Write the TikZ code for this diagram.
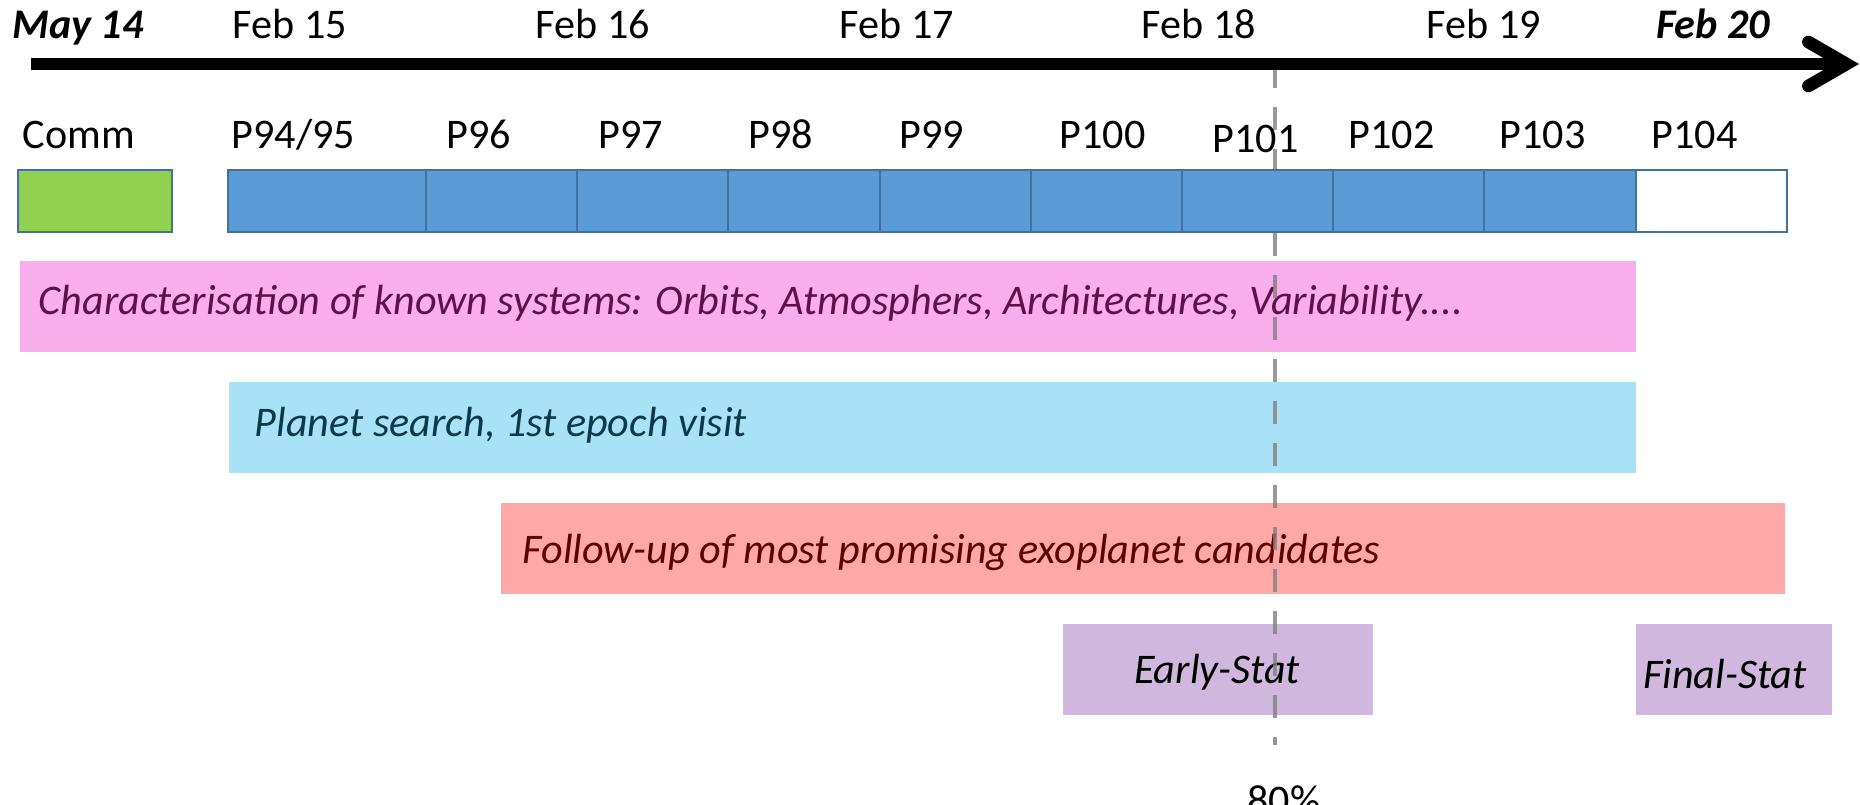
\documentclass[tikz,border=0pt]{standalone}
\usepackage{fontspec}
\setmainfont{Carlito}
\usetikzlibrary{arrows.meta,positioning}
\definecolor{cellblue}{RGB}{91,155,213}
\definecolor{cellline}{RGB}{65,113,156}
\definecolor{commgreen}{RGB}{146,208,80}
\definecolor{pinkbar}{RGB}{249,174,236}
\definecolor{pinktext}{RGB}{94,16,74}
\definecolor{skybar}{RGB}{169,226,247}
\definecolor{skytext}{RGB}{12,58,72}
\definecolor{salmonbar}{RGB}{255,168,168}
\definecolor{salmontext}{RGB}{96,0,0}
\definecolor{lavender}{RGB}{207,183,221}
\newcommand{\twelve}{\fontsize{12}{14}\selectfont}

\begin{document}
\begin{tikzpicture}[x=0.1mm,y=-0.1mm,font=\twelve,
    period/.style={draw=cellline,line width=0.6pt,minimum height=6.2mm,
      inner sep=0pt,outer sep=0pt,anchor=north west},
    lab/.style={anchor=base west,inner sep=0pt},
    datelab/.style={anchor=base,inner sep=0pt},
    bar/.style={minimum height=9.1mm,inner sep=0pt,outer sep=0pt,anchor=north west},
    bartext/.style={anchor=base west,inner sep=0pt,font=\twelve\itshape}]
  \useasboundingbox (0,0) rectangle (1860,805);
  \clip (0,0) rectangle (1860,805);

  % programme bars
  \node[bar,fill=pinkbar,minimum width=161.6mm] (known) at (20,261) {};
  \node[bartext,text=pinktext] (knowntxt) at (38,315) {Characterisation of known systems: Orbits, Atmosphers, Architectures, Variability....};
  \node[bar,fill=skybar,minimum width=140.7mm] (search) at (229,382) {};
  \node[bartext,text=skytext] (searchtxt) at (254,436) {Planet search, 1st epoch visit};
  \node[bar,fill=salmonbar,minimum width=128.4mm] (follow) at (501,503) {};
  \node[bartext,text=salmontext] (followtxt) at (522,563) {Follow-up of most promising exoplanet candidates};
  \node[bar,fill=lavender,minimum width=31mm] (early) at (1063,624) {};
  \node[bartext,anchor=base] (earlytxt) at (1217,683) {Early-Stat};
  \node[bar,fill=lavender,minimum width=19.6mm] (final) at (1636,624) {};
  \node[bartext,anchor=base] (finaltxt) at (1725,688) {Final-Stat};

  % 80% marker
  \coordinate (m0) at (1275,65);
  \coordinate (m1) at (1275,745);
  \draw[gray,line width=1.4pt,dash pattern=on 2.3mm off 1.9mm,opacity=0.8] (m0) -- (m1);
  \node[anchor=base,inner sep=0pt] (pct) at (1284,814) {80\%};

  % periods
  \node[period,fill=commgreen,minimum width=15.4mm] (comm) at (18,170) {};
  \node[lab] (commlab) at (22,149) {Comm};
  \foreach \t/\lx/\ly/\c [count=\i from 0] in {
    {P94/95}/231/149/cellblue, P96/446/149/cellblue, P97/598/149/cellblue,
    P98/748/149/cellblue, P99/899/149/cellblue, P100/1059/149/cellblue,
    P101/1212/153/cellblue, P102/1348/149/cellblue, P103/1499/149/cellblue,
    P104/1651/149/white}
  {
    \pgfmathsetmacro{\x}{\i==0 ? 228 : 426+(\i-1)*151.2}
    \pgfmathsetmacro{\w}{\i==0 ? 19.8 : 15.12}
    \node[period,fill=\c,minimum width=\w mm] (p\i) at (\x,170) {};
    \node[lab] (l\i) at (\lx,\ly) {\t};
  }

  % time axis
  \coordinate (t0) at (31,64);
  \coordinate (t1) at (1859,64);
  \draw[line width=3.6pt,-{Straight Barb[length=3.8mm,width=4.4mm,line cap=round,line join=miter]}] (t0) -- (t1);
  \node[datelab,font=\twelve\bfseries\itshape] (may14) at (78,39) {May 14};
  \foreach \d/\x [count=\i] in {Feb 15/290,Feb 16/593,Feb 17/897,Feb 18/1199,Feb 19/1484}
    \node[datelab] (feb\i) at (\x,39) {\d};
  \node[datelab,font=\twelve\bfseries\itshape] (feb20) at (1713,39) {Feb 20};
\end{tikzpicture}
\end{document}
